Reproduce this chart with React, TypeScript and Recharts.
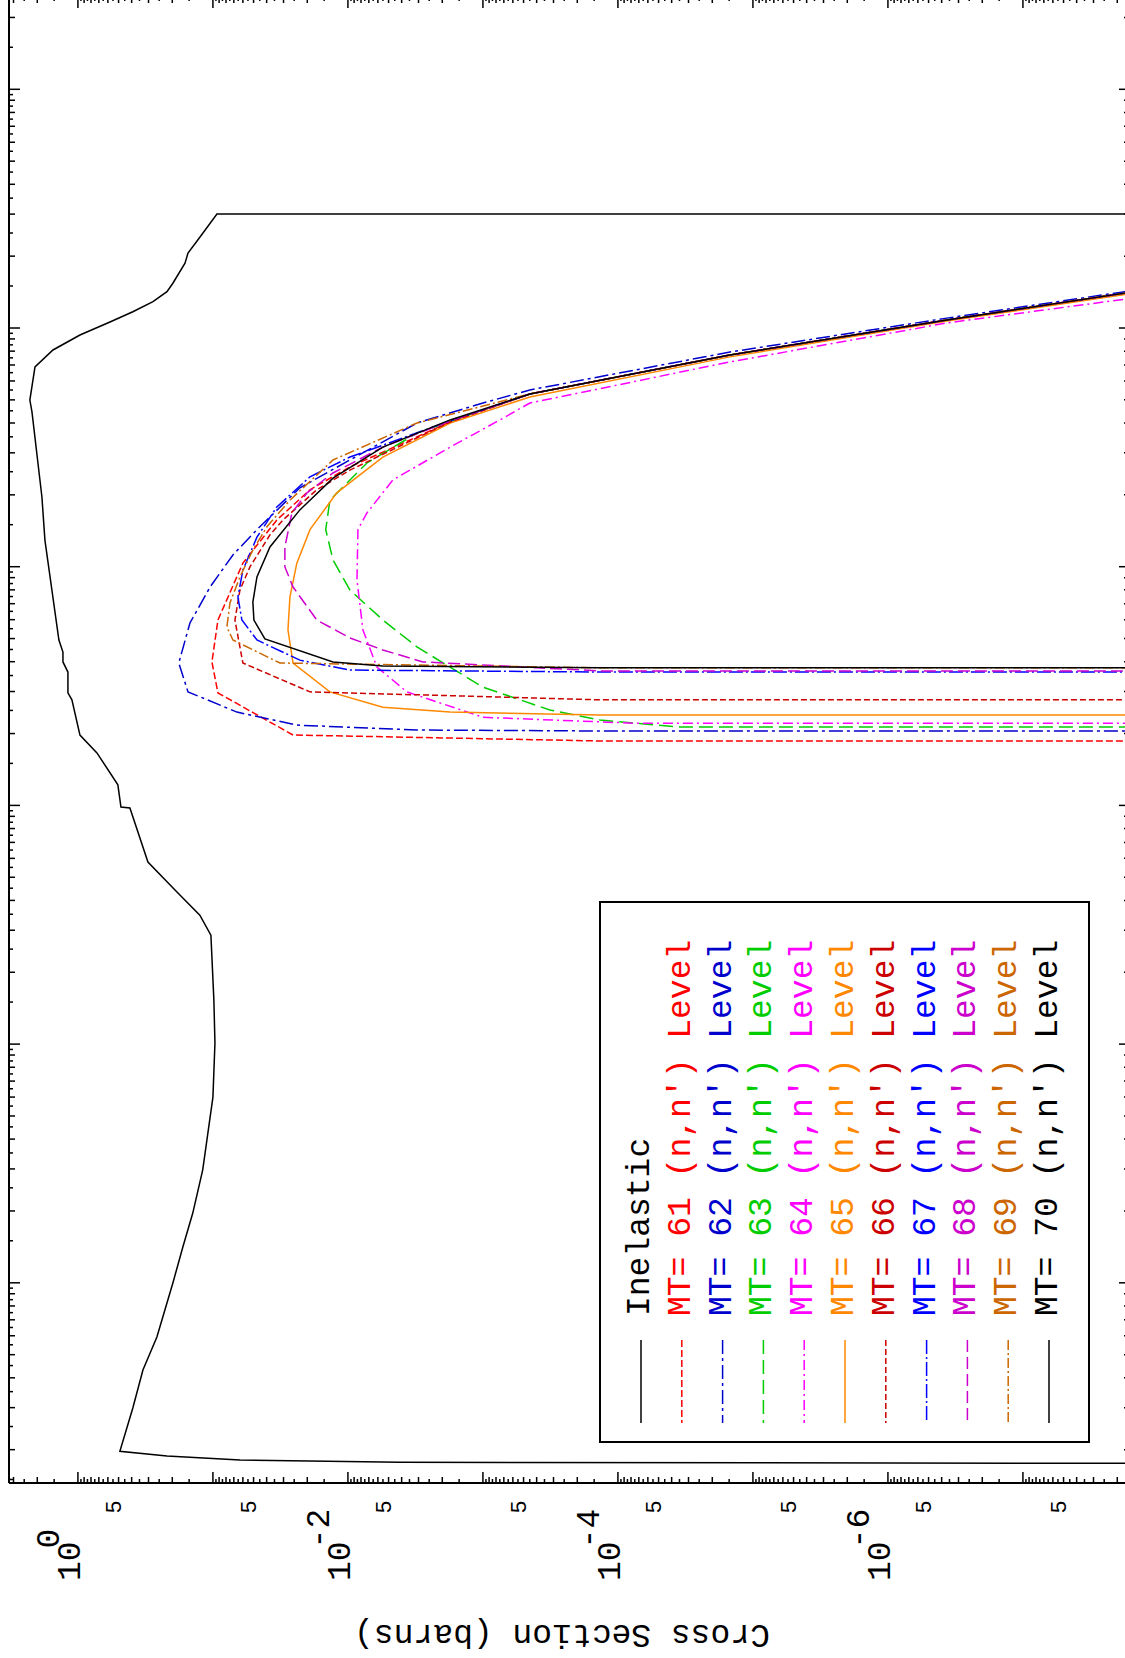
import React from 'react';
import { ScatterChart, Scatter, XAxis, YAxis, ReferenceLine } from 'recharts';

// energies in eV, cross sections in barns
const INELASTIC = [
  [175, 1e-9], [177, 4.1e-3], [181, 0.063], [188, 0.219], [197, 0.489],
  [299, 0.392], [431, 0.33], [593, 0.26], [998, 0.198], [1413, 0.167],
  [1960, 0.141], [2970, 0.119], [6000, 0.1], [1.01e4, 0.0966], [1.53e4, 0.0984],
  [2.86e4, 0.1035], [3.47e4, 0.125], [4.42e4, 0.191], [5.79e4, 0.303], [9.75e4, 0.412],
  [9.84e4, 0.48], [1.22e5, 0.506], [1.66e5, 0.723], [1.97e5, 0.966], [2.77e5, 1.108],
  [2.96e5, 1.186], [3.62e5, 1.186], [3.99e5, 1.291], [4.39e5, 1.291], [4.93e5, 1.383],
  [1.29e6, 1.755], [1.96e6, 1.848], [4.45e6, 2.19], [4.99e6, 2.27], [6.87e6, 2.08],
  [8.09e6, 1.53], [9.35e6, 0.966], [1.06e7, 0.579], [1.17e7, 0.392], [1.29e7, 0.278],
  [1.42e7, 0.219], [1.54e7, 0.198], [1.87e7, 0.161], [2.06e7, 0.153], [2.4e7, 0.125],
  [3.0e7, 0.0934], [3.0e7, 1e-9],
];

// high-energy part where the level curves run together
const TAIL = [[5.29e6, 4.49e-4], [7.71e6, 1.48e-5], [1.08e7, 3.66e-7], [1.4e7, 1.76e-8], [1.68e7, 2.1e-9]];

const MT61 = [
  [1.862e5, 1e-9], [1.862e5, 1.36e-4], [1.972e5, 0.0255], [2.96e5, 0.0918], [3.99e5, 0.1017],
  [5.98e5, 0.0918], [1.035e6, 0.06], [1.57e6, 0.0336], [2.1e6, 0.0191], [2.62e6, 0.00966],
  [4.04e6, 0.00175], ...TAIL,
];
const MT62 = [
  [2.05e5, 1e-9], [2.05e5, 1.36e-4], [2.07e5, 0.00308], [2.17e5, 0.0239], [2.46e5, 0.0664],
  [2.99e5, 0.153], [3.95e5, 0.179], [5.81e5, 0.148], [8.22e5, 0.105], [1.12e6, 0.0711],
  [1.43e6, 0.0472], [2.14e6, 0.0227], [2.8e6, 0.00966], [4.0e6, 0.00308], [4.85e6, 1.0e-3],
  [5.5e6, 4.49e-4], [7.93e6, 1.48e-5], [1.1e7, 3.66e-7], [1.42e7, 1.76e-8], [1.7e7, 2.1e-9],
];
const MT63 = [
  [2.13e5, 1e-9], [2.13e5, 3.47e-5], [2.28e5, 1.36e-4], [2.51e5, 3.19e-4], [3.13e5, 1.0e-3],
  [4.61e5, 0.00308], [5.98e5, 0.00551], [7.98e5, 0.00966], [1.067e6, 0.0129], [1.43e6, 0.0146],
  [1.9e6, 0.0136], [2.72e6, 0.00723], [3.63e6, 0.00308], [4.53e6, 1.0e-3], ...TAIL,
];
const MT64 = [
  [2.21e5, 1e-9], [2.21e5, 7.61e-5], [2.34e5, 1.0e-3], [2.99e5, 0.00366], [3.8e5, 0.0061],
  [5.43e5, 0.00774], [8.79e5, 0.00857], [1.43e6, 0.00843], [1.68e6, 0.00723], [2.31e6, 0.00464],
  [3.17e6, 0.00175], [4.12e6, 7.48e-4], [4.85e6, 4.49e-4], [7.21e6, 1.48e-5], [1.05e7, 3.66e-7],
  [1.32e7, 1.76e-8], [1.59e7, 2.1e-9],
];
const MT65 = [
  [2.39e5, 1e-9], [2.39e5, 1.36e-4], [2.46e5, 0.00175], [2.58e5, 0.00551], [2.99e5, 0.0136],
  [3.95e5, 0.0255], [5.43e5, 0.0278], [7.46e5, 0.0269], [1.035e6, 0.0239], [1.43e6, 0.0191],
  [2.04e6, 0.0121], [2.88e6, 0.00551], [4.0e6, 0.00175], [5.14e6, 4.49e-4], [7.57e6, 1.48e-5],
  [1.07e7, 3.66e-7], [1.38e7, 1.76e-8], [1.66e7, 2.1e-9],
];
const MT66 = [
  [2.77e5, 1e-9], [2.77e5, 1.36e-4], [2.99e5, 0.0191], [3.95e5, 0.06], [5.98e5, 0.0687],
  [7.98e5, 0.0631], [9.98e5, 0.0532], [1.36e6, 0.0378], [1.57e6, 0.0303], [2.1e6, 0.017],
  [2.54e6, 0.00966], [4.04e6, 0.00175], ...TAIL,
];
const MT67 = [
  [3.62e5, 1e-9], [3.62e5, 1.36e-4], [3.69e5, 0.00966], [4.06e5, 0.0227], [4.93e5, 0.0472],
  [5.98e5, 0.061], [7.46e5, 0.0653], [9.68e5, 0.06], [1.33e6, 0.0472], [1.78e6, 0.0336],
  [2.38e6, 0.0191], [2.88e6, 0.00966], [4.08e6, 0.00175], ...TAIL,
];
const MT68 = [
  [3.66e5, 1e-9], [3.66e5, 1.36e-4], [3.99e5, 0.00278], [4.48e5, 0.00551], [5.03e5, 0.00966],
  [5.98e5, 0.017], [8.22e5, 0.0255], [9.98e5, 0.0293], [1.21e6, 0.0293], [1.68e6, 0.026],
  [2.04e6, 0.0201], [2.47e6, 0.0129], [3.17e6, 0.00551], [4.08e6, 0.00175], ...TAIL,
];
const MT69 = [
  [3.77e5, 1e-9], [3.77e5, 1.36e-4], [3.95e5, 0.0319], [4.93e5, 0.0711], [5.59e5, 0.0788],
  [7.05e5, 0.0748], [9.06e5, 0.0631], [1.175e6, 0.0506], [1.47e6, 0.0398], [1.9e6, 0.0269],
  [2.8e6, 0.0129], [4.0e6, 0.00308], ...TAIL,
];
const MT70 = [
  [3.77e5, 1e-9], [3.77e5, 1.36e-4], [3.84e5, 0.00551], [3.99e5, 0.0129], [4.98e5, 0.0412],
  [5.98e5, 0.0497], [7.11e5, 0.0506], [9.06e5, 0.0472], [1.21e6, 0.0378], [1.73e6, 0.0227],
  [2.35e6, 0.0129], [3.17e6, 0.00551], [4.12e6, 0.00175], ...TAIL,
];

const SERIES = [
  { label: 'Inelastic', color: '#000000', dash: undefined, data: INELASTIC },
  { label: "MT= 61 (n,n') Level", color: '#ff0000', dash: '7 3', data: MT61 },
  { label: "MT= 62 (n,n') Level", color: '#0000cc', dash: '14 4 3 4', data: MT62 },
  { label: "MT= 63 (n,n') Level", color: '#00cc00', dash: '14 6', data: MT63 },
  { label: "MT= 64 (n,n') Level", color: '#ff00ff', dash: '10 4 2 4', data: MT64 },
  { label: "MT= 65 (n,n') Level", color: '#ff8800', dash: undefined, data: MT65 },
  { label: "MT= 66 (n,n') Level", color: '#cc0000', dash: '6 3', data: MT66 },
  { label: "MT= 67 (n,n') Level", color: '#0000ff', dash: '14 3 2 3', data: MT67 },
  { label: "MT= 68 (n,n') Level", color: '#cc00cc', dash: '12 5', data: MT68 },
  { label: "MT= 69 (n,n') Level", color: '#cc6600', dash: '10 3 2 3', data: MT69 },
  { label: "MT= 70 (n,n') Level", color: '#000000', dash: undefined, data: MT70 },
];

// axis ranges and tick values
const XS_DOMAIN = [1.61e-8, 3.24];
const E_DOMAIN = [145, 2.436e8];
const MANTISSAS = [1, 1.5, 2, 2.5, 3, 3.5, 4, 4.5, 5, 5.5, 6, 6.5, 7, 7.5, 8, 8.5, 9, 9.5];
const XS_DECADES = [-8, -7, -6, -5, -4, -3, -2, -1, 0];
const E_DECADES = [2, 3, 4, 5, 6, 7, 8];

const buildTicks = (decades: number[], dom: number[]) =>
  decades
    .flatMap((k) => MANTISSAS.map((m) => m * Math.pow(10, k)))
    .filter((v) => v >= dom[0] && v <= dom[1]);

const XS_TICKS = buildTicks(XS_DECADES, XS_DOMAIN);
const E_TICKS = buildTicks(E_DECADES, E_DOMAIN);

const FONT = '"Liberation Mono", "DejaVu Sans Mono", monospace';
const W = 1140;
const H = 1680;
const SHIFT = 10; // chart svg sits 10px above the page top
const PLOT_LEFT = 9;
const PLOT_RIGHT = 1130;
const PLOT_TOP = 7;
const PLOT_BOTTOM = 1493;

const splitTick = (v: number) => {
  const k = Math.floor(Math.log10(v) + 1e-9);
  return { k, m: Math.round((v / Math.pow(10, k)) * 2) / 2 };
};
const tickLen = (m: number) => (m === 1 ? 11 : Number.isInteger(m) ? 6 : 4);

const XTick = (props: any) => {
  const { x, payload } = props;
  const { k, m } = splitTick(payload.value);
  const len = tickLen(m);
  return (
    <g>
      <line x1={x} x2={x} y1={PLOT_BOTTOM} y2={PLOT_BOTTOM - len} stroke="#000" strokeWidth={1.5} />
      <line x1={x} x2={x} y1={PLOT_TOP} y2={PLOT_TOP + len} stroke="#000" strokeWidth={1.5} />
      {m === 5 && (
        <text transform={`translate(${x + 2},${1507 + SHIFT}) rotate(-90)`} textAnchor="middle"
          fontSize={22} fontFamily={FONT} fill="#000">5</text>
      )}
      {m === 1 && k % 2 === 0 && (
        <text transform={`translate(${x + 2},${1581 + SHIFT}) rotate(-90)`} fontSize={33}
          fontFamily={FONT} fill="#000">
          10<tspan dx={-7} dy={-21}>{String(k)}</tspan>
        </text>
      )}
    </g>
  );
};

const YTick = (props: any) => {
  const { y, payload } = props;
  const { m } = splitTick(payload.value);
  const len = tickLen(m);
  return (
    <g>
      <line x1={PLOT_RIGHT} x2={PLOT_RIGHT - len} y1={y} y2={y} stroke="#000" strokeWidth={1.5} />
      <line x1={PLOT_LEFT} x2={PLOT_LEFT + len} y1={y} y2={y} stroke="#000" strokeWidth={1.5} />
    </g>
  );
};

const noDot = () => <g />;

export default function App() {
  return (
    <div style={{ position: 'absolute', left: 0, top: 0, width: 1125, height: 1658, overflow: 'hidden', background: '#fff' }}>
      <div style={{ position: 'absolute', left: 0, top: -SHIFT }}>
        <ScatterChart width={W} height={H} margin={{ top: PLOT_TOP, right: 0, bottom: 0, left: PLOT_LEFT }}>
          <XAxis
            type="number"
            dataKey="xs"
            scale="log"
            domain={XS_DOMAIN}
            allowDataOverflow
            reversed
            ticks={XS_TICKS}
            interval={0}
            tick={(p: any) => <XTick {...p} />}
            tickLine={false}
            axisLine={{ stroke: '#000', strokeWidth: 2 }}
            height={H - PLOT_BOTTOM}
          />
          <YAxis
            type="number"
            dataKey="e"
            scale="log"
            domain={E_DOMAIN}
            allowDataOverflow
            orientation="right"
            ticks={E_TICKS}
            interval={0}
            tick={(p: any) => <YTick {...p} />}
            tickLine={false}
            axisLine={false}
            width={W - PLOT_RIGHT}
          />
          <ReferenceLine x={XS_DOMAIN[1]} stroke="#000" strokeWidth={2} />
          {SERIES.map((s) => (
            <Scatter
              key={s.label}
              data={s.data.map(([e, xs]) => ({ e, xs }))}
              fill={s.color}
              line={{ stroke: s.color, strokeWidth: 1.5, strokeDasharray: s.dash }}
              lineType="joint"
              shape={noDot}
              isAnimationActive={false}
            />
          ))}
        </ScatterChart>
      </div>
      <svg width={1125} height={1658} style={{ position: 'absolute', left: 0, top: 0, pointerEvents: 'none' }}>
        <rect x={600} y={902} width={489} height={540} fill="none" stroke="#000" strokeWidth={2} />
        {SERIES.map((s, i) => {
          const bx = 649 + i * 40.8;
          return (
            <g key={s.label}>
              <line x1={bx - 8} x2={bx - 8} y1={1340} y2={1423} stroke={s.color} strokeWidth={1.5}
                strokeDasharray={s.dash} />
              <text transform={`translate(${bx},1316) rotate(-90)`} fill={s.color} fontSize={33}
                fontFamily={FONT}>{s.label}</text>
            </g>
          );
        })}
        <text transform="translate(562,1625) rotate(180)" textAnchor="middle" fontSize={33}
          fontFamily={FONT} fill="#000">Cross Section (barns)</text>
      </svg>
    </div>
  );
}
